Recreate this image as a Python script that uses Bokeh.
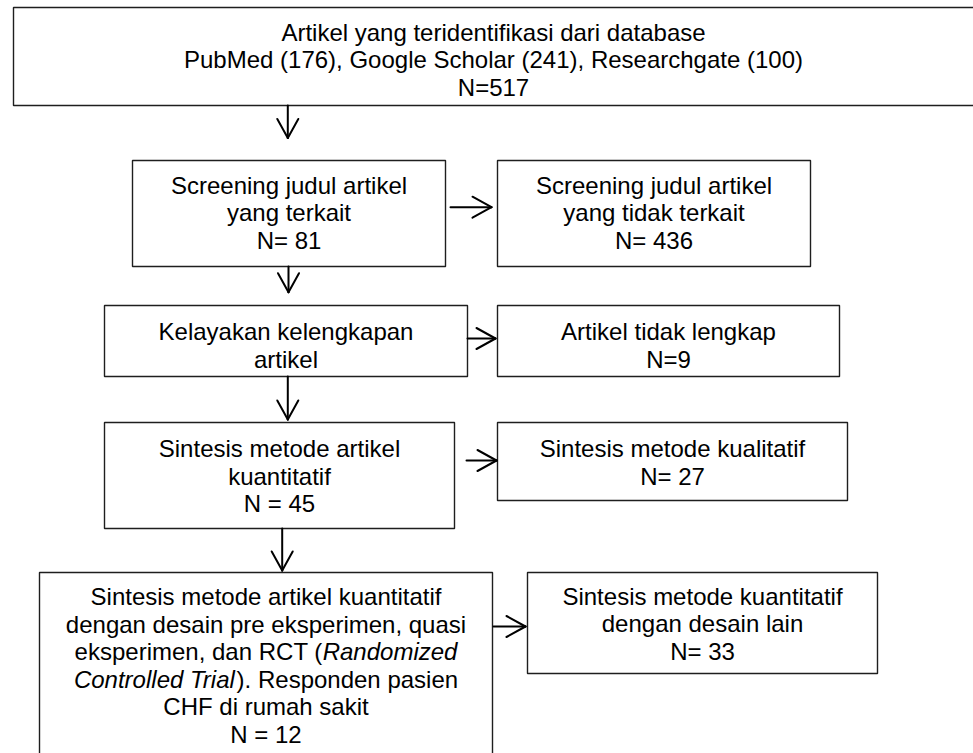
from bokeh.plotting import figure
from bokeh.models import Range1d, ColumnDataSource
from bokeh.core.properties import value
from bokeh.embed import file_html
from bokeh.resources import INLINE
import numpy as np

# ---- chart values ----
source_names = ["PubMed", "Google Scholar", "Researchgate"]
source_counts = [176, 241, 100]
n_identified = 517
n_related = 81
n_unrelated = 436
n_incomplete = 9
n_quant = 45
n_qual = 27
n_other_design = 33
n_final = 12

# box texts (segments between "_" are italic)
box_texts = [
    ["Artikel yang teridentifikasi dari database",
     ", ".join(f"{s} ({c})" for s, c in zip(source_names, source_counts)),
     f"N={n_identified}"],
    ["Screening judul artikel", "yang terkait", f"N= {n_related}"],
    ["Screening judul artikel", "yang tidak terkait", f"N= {n_unrelated}"],
    ["Kelayakan kelengkapan", "artikel"],
    ["Artikel tidak lengkap", f"N={n_incomplete}"],
    ["Sintesis metode artikel", "kuantitatif", f"N = {n_quant}"],
    ["Sintesis metode kualitatif", f"N= {n_qual}"],
    ["Sintesis metode artikel kuantitatif",
     "dengan desain pre eksperimen, quasi",
     "eksperimen, dan RCT (_Randomized_",
     "_Controlled Trial_). Responden pasien",
     "CHF di rumah sakit",
     f"N = {n_final}"],
    ["Sintesis metode kuantitatif", "dengan desain lain", f"N= {n_other_design}"],
]

# ---- layout (pixel space of the page image) ----
box_left = [13, 132, 497, 104, 497, 104, 497, 39, 527]
box_right = [974, 445, 810, 467, 839, 454, 847, 492, 877]
box_top = [7, 160, 160, 305, 305, 422, 422, 572, 572]
box_bottom = [105, 266, 266, 376, 376, 528, 500, 760, 673]
text_cx = [493, 288.5, 653.5, 285.5, 668, 279, 672, 265.5, 702]
text_y0 = [40, 193, 193, 339.5, 339.5, 456.7, 456.7, 604.5, 604]
line_step = 27.5
font_px = 24
mid_shift = 8.3  # baseline -> em-box middle for Liberation Sans

arrow_x0 = [287.3, 450, 288, 467, 287.3, 466, 281.7, 493]
arrow_y0 = [105, 206.7, 266, 338, 376, 460, 528, 626]
arrow_x1 = [287.3, 491, 288, 495, 287.3, 496, 281.7, 525]
arrow_y1 = [137.5, 206.7, 291.7, 338, 419, 460, 570, 626]
head_len = 19
head_half = 10.5

# Arial / Liberation Sans advance widths (per 1000 em)
W = {' ': 278, '(': 333, ')': 333, '.': 278, ',': 278, '=': 584, '-': 333}
for ch in "0123456789":
    W[ch] = 556
W.update(dict(a=556, b=556, c=500, d=556, e=556, f=278, g=556, h=556, i=222, j=222,
              k=500, l=222, m=833, n=556, o=556, p=556, q=556, r=333, s=500, t=278,
              u=556, v=500, w=722, x=500, y=500, z=500))
W.update(dict(A=667, B=667, C=722, D=722, E=667, F=611, G=778, H=722, I=278, J=500,
              K=667, L=556, M=833, N=722, O=778, P=667, Q=778, R=722, S=667, T=611,
              U=722, V=667, W=944, X=667, Y=667, Z=611))


def text_width(s):
    return sum(W.get(ch, 556) for ch in s) * font_px / 1000.0


p = figure(width=973, height=753, output_backend="svg", toolbar_location=None,
           x_range=Range1d(0, 973), y_range=Range1d(753, 0), min_border=0)
p.axis.visible = False
p.grid.visible = False
p.outline_line_color = None
p.background_fill_color = "white"

p.quad(left=box_left, right=box_right, top=box_top, bottom=box_bottom,
       fill_color="white", line_color="#1e1e1e", line_width=1.4)

# arrows
ax0, ay0 = np.array(arrow_x0), np.array(arrow_y0)
ax1, ay1 = np.array(arrow_x1), np.array(arrow_y1)
d = np.stack([ax1 - ax0, ay1 - ay0], axis=1)
d = d / np.linalg.norm(d, axis=1)[:, None]
perp = np.stack([-d[:, 1], d[:, 0]], axis=1)
bx = ax1 - d[:, 0] * head_len
by = ay1 - d[:, 1] * head_len
sx0 = list(ax0) + list(bx + perp[:, 0] * head_half) + list(bx - perp[:, 0] * head_half)
sy0 = list(ay0) + list(by + perp[:, 1] * head_half) + list(by - perp[:, 1] * head_half)
sx1 = list(ax1) * 3
sy1 = list(ay1) * 3
p.segment(x0=sx0, y0=sy0, x1=sx1, y1=sy1, line_color="black", line_width=2,
          line_cap="round")

# texts
groups = {}
for bi, lines in enumerate(box_texts):
    for li, line in enumerate(lines):
        y = text_y0[bi] + li * line_step - mid_shift
        parts = line.split("_")
        segs = [(t, k % 2 == 1) for k, t in enumerate(parts) if t]
        if len(segs) == 1:
            key = ("italic" if segs[0][1] else "normal", "center")
            groups.setdefault(key, ([], [], []))
            groups[key][0].append(text_cx[bi]); groups[key][1].append(y); groups[key][2].append(segs[0][0])
        else:
            total = sum(text_width(t) for t, _ in segs)
            x = text_cx[bi] - total / 2
            for t, it in segs:
                key = ("italic" if it else "normal", "left")
                groups.setdefault(key, ([], [], []))
                groups[key][0].append(x); groups[key][1].append(y); groups[key][2].append(t)
                x += text_width(t)

for (style, align), (xs, ys, ts) in groups.items():
    src = ColumnDataSource(dict(x=xs, y=ys, text=ts))
    p.text(x="x", y="y", text="text", source=src, text_align=align,
           text_baseline="middle", text_font=value("Liberation Sans"),
           text_font_size=f"{font_px}px", text_font_style=style, text_color="black")

open("out.html", "w").write(file_html(p, INLINE))
